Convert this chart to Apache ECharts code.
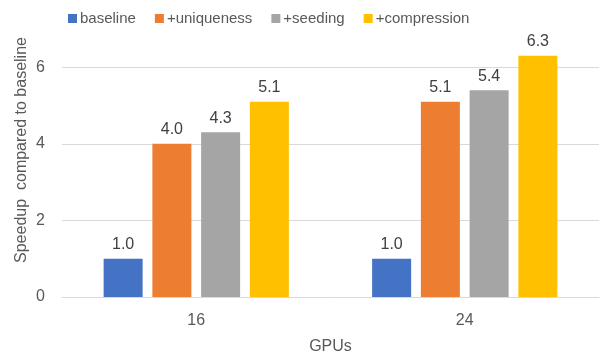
<!DOCTYPE html>
<html>
<head>
<meta charset="utf-8">
<script src="https://cdn.jsdelivr.net/npm/echarts@6/dist/echarts.min.js"></script>
<style>
  html, body { margin: 0; padding: 0; background: #fff; }
  #chart { width: 600px; height: 360px; }
</style>
</head>
<body>
<div id="chart"></div>
<script>
// GPU counts on the x axis
const gpus = ['16', '24'];

// Speedup of each variant relative to the baseline
const baseline = [1.0, 1.0];
const uniqueness = [4.0, 5.1];
const seeding = [4.3, 5.4];
const compression = [5.1, 6.3];

const seriesNames = ['baseline', '+uniqueness', '+seeding', '+compression'];
const seriesColors = ['#4472C4', '#ED7D31', '#A5A5A5', '#FFC000'];
const seriesValues = [baseline, uniqueness, seeding, compression];

const FONT = 'Liberation Sans';
const TEXT = '#595959';

const chart = echarts.init(document.getElementById('chart'));

chart.setOption({
  animation: false,
  textStyle: { fontFamily: FONT },
  legend: {
    top: 6,
    left: 63,
    itemWidth: 9,
    itemHeight: 9,
    itemGap: 19,
    icon: 'rect',
    textStyle: { fontFamily: FONT, fontSize: 15, color: TEXT, padding: [0, 0, 0, -2] },
    data: seriesNames
  },
  grid: { left: 62, right: 1, top: 29, bottom: 63, containLabel: false },
  xAxis: {
    type: 'category',
    data: gpus,
    name: 'GPUs',
    nameLocation: 'middle',
    nameGap: 42,
    nameTextStyle: { fontFamily: FONT, fontSize: 16, color: TEXT, verticalAlign: 'top' },
    axisLine: { lineStyle: { color: '#d9d9d9', width: 1 } },
    axisTick: { show: false },
    axisLabel: { fontFamily: FONT, fontSize: 16, color: TEXT, margin: 16 }
  },
  yAxis: {
    type: 'value',
    min: 0,
    max: 7,
    interval: 1,
    axisLine: { show: false },
    axisTick: { show: false },
    axisLabel: {
      fontFamily: FONT, fontSize: 16, color: TEXT, margin: 17,
      formatter: v => (v % 2 === 0 ? String(v) : '')
    },
    splitLine: {
      lineStyle: { color: ['#d9d9d9', 'transparent'], width: 1 }
    }
  },
  // Vertical axis title, rotated to read bottom-to-top
  graphic: [{
    type: 'text',
    x: 22,
    y: 150,
    rotation: Math.PI / 2,
    style: {
      text: 'Speedup  compared to baseline',
      x: 0,
      y: 0,
      textAlign: 'center',
      textVerticalAlign: 'middle',
      fontFamily: FONT,
      fontSize: 16,
      fill: TEXT
    }
  }],
  series: seriesNames.map((name, i) => ({
    name,
    type: 'bar',
    data: seriesValues[i],
    barWidth: 39,
    barGap: '25%',
    itemStyle: { color: seriesColors[i] },
    label: {
      show: true,
      position: 'top',
      distance: 6,
      fontFamily: FONT,
      fontSize: 16,
      color: '#404040',
      formatter: p => p.value.toFixed(1)
    }
  }))
});
</script>
</body>
</html>
